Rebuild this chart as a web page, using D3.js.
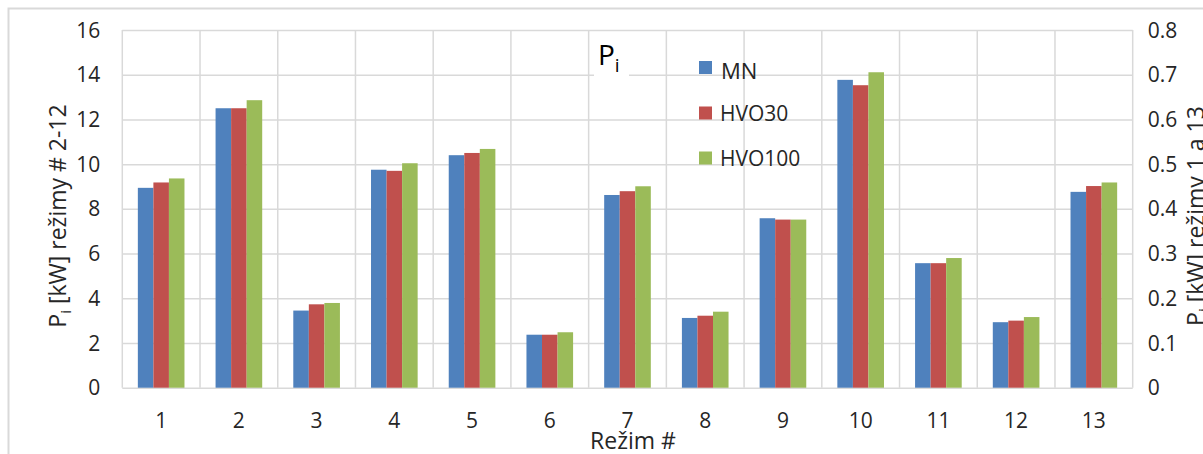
<!DOCTYPE html>
<html>
<head>
<meta charset="utf-8">
<script src="https://cdn.jsdelivr.net/npm/d3@7"></script>
<style>
  body { margin: 0; background: #fff; }
  svg { display: block; font-family: 'Open Sans', sans-serif; }
  .grid line { stroke: #d9d9d9; stroke-width: 1.5; }
  .tick-label { fill: #262626; font-size: 21px; }
  .label-text { fill: #262626; font-size: 23px; }
</style>
</head>
<body>
<div id="chart"></div>
<script>
const categories = ['1', '2', '3', '4', '5', '6', '7', '8', '9', '10', '11', '12', '13'];
// modes 1 and 13 are read against the right axis (0 - 0.8)
const secondaryCats = ['1', '13'];
const mn     = [0.447, 12.50, 3.45,  9.75, 10.40, 2.37, 8.62, 3.12, 7.58, 13.77, 5.57, 2.93, 0.438];
const hvo30  = [0.459, 12.50, 3.73,  9.70, 10.50, 2.37, 8.79, 3.22, 7.52, 13.53, 5.57, 3.00, 0.451];
const hvo100 = [0.468, 12.86, 3.79, 10.04, 10.68, 2.48, 9.01, 3.40, 7.52, 14.11, 5.80, 3.16, 0.459];
const seriesNames = ['MN', 'HVO30', 'HVO100'];
const seriesColors = ['#4f81bd', '#c0504d', '#9bbb59'];
const leftTicks = [0, 2, 4, 6, 8, 10, 12, 14, 16];
const rightTicks = [0, 0.1, 0.2, 0.3, 0.4, 0.5, 0.6, 0.7, 0.8];

const width = 1203;
const height = 454;
const margins = { top: 30, right: 70.3, bottom: 66.3, left: 122.3 };
const chartWidth = width - margins.left - margins.right;
const chartHeight = height - margins.top - margins.bottom;

const series = [mn, hvo30, hvo100];

const svg = d3.select('#chart')
  .append('svg')
  .attr('width', width)
  .attr('height', height)
  .attr('viewBox', `0 0 ${width} ${height}`);

// outer chart frame (only top and left edges show in the picture)
svg.append('path')
  .attr('d', `M8.5,${height} V8.5 H${width}`)
  .attr('fill', 'none')
  .attr('stroke', '#d9d9d9')
  .attr('stroke-width', 2);

const plotG = svg.append('g')
  .attr('class', 'plot-area')
  .attr('transform', `translate(${margins.left},${margins.top})`);

const xScale = d3.scaleBand()
  .domain(categories)
  .range([0, chartWidth])
  .padding(0);

const yLeft = d3.scaleLinear().domain([0, 16]).range([chartHeight, 0]);
const yRight = d3.scaleLinear().domain([0, 0.8]).range([chartHeight, 0]);

// bar width: three bars plus a gap of two bar widths per category
const barW = xScale.bandwidth() / 5;
const xSeries = d3.scaleBand()
  .domain(seriesNames)
  .range([barW, barW * 4])
  .padding(0);

// horizontal grid
plotG.append('g')
  .attr('class', 'y grid')
  .call(d3.axisLeft(yLeft).tickValues(leftTicks).tickSize(-chartWidth).tickFormat(''))
  .call(g => g.select('.domain').remove());

// vertical grid at category borders
plotG.append('g')
  .attr('class', 'x grid')
  .selectAll('line')
  .data(categories.concat(['end']))
  .enter()
  .append('line')
  .attr('x1', (d, i) => i < categories.length ? xScale(d) : chartWidth)
  .attr('x2', (d, i) => i < categories.length ? xScale(d) : chartWidth)
  .attr('y1', 0)
  .attr('y2', chartHeight);

// bars
const groups = plotG.append('g')
  .attr('class', 'bars')
  .selectAll('g')
  .data(categories)
  .enter()
  .append('g')
  .attr('transform', d => `translate(${xScale(d)},0)`);

groups.selectAll('rect')
  .data((c, ci) => series.map((s, si) => ({
    name: seriesNames[si],
    color: seriesColors[si],
    value: s[ci],
    scale: secondaryCats.includes(c) ? yRight : yLeft
  })))
  .enter()
  .append('rect')
  .attr('x', d => xSeries(d.name))
  .attr('width', xSeries.bandwidth())
  .attr('y', d => d.scale(d.value))
  .attr('height', d => chartHeight - d.scale(d.value))
  .attr('fill', d => d.color);

// tick labels
plotG.append('g')
  .selectAll('text')
  .data(leftTicks)
  .enter()
  .append('text')
  .attr('class', 'tick-label')
  .attr('x', -22)
  .attr('y', d => yLeft(d))
  .attr('dy', '0.36em')
  .attr('text-anchor', 'end')
  .text(d => d);

plotG.append('g')
  .selectAll('text')
  .data(rightTicks)
  .enter()
  .append('text')
  .attr('class', 'tick-label')
  .attr('x', chartWidth + 15)
  .attr('y', d => yRight(d))
  .attr('dy', '0.36em')
  .attr('text-anchor', 'start')
  .text(d => d === 0 ? '0' : d3.format('.1f')(d));

plotG.append('g')
  .selectAll('text')
  .data(categories)
  .enter()
  .append('text')
  .attr('class', 'tick-label')
  .attr('x', d => xScale(d) + xScale.bandwidth() / 2)
  .attr('y', chartHeight + 33)
  .attr('dy', '0.36em')
  .attr('text-anchor', 'middle')
  .text(d => d);

// axis titles
svg.append('text')
  .attr('class', 'label-text')
  .attr('x', 633)
  .attr('y', 449)
  .attr('text-anchor', 'middle')
  .text('Režim #');

const yTitle = (x, label) => {
  const t = svg.append('text')
    .attr('class', 'label-text')
    .attr('transform', `translate(${x},216) rotate(-90)`)
    .attr('text-anchor', 'middle');
  t.append('tspan').text('P');
  t.append('tspan').attr('dy', 5).attr('font-size', 15).text('i');
  t.append('tspan').attr('dy', -5).text(label);
};
yTitle(66, ' [kW] režimy # 2-12');
yTitle(1204, ' [kW] režimy 1 a 13');

// chart title with white background over the grid
svg.append('rect')
  .attr('x', 594)
  .attr('y', 44)
  .attr('width', 35)
  .attr('height', 36)
  .attr('fill', '#fff');

const title = svg.append('text')
  .attr('x', 598)
  .attr('y', 65)
  .attr('fill', '#000')
  .attr('font-size', 28);
title.append('tspan').text('P');
title.append('tspan').attr('dy', 7).attr('font-size', 19).text('i');

// legend
const legendY = [67.5, 113, 158];
const legendFont = [22, 21, 21];
const legend = svg.append('g')
  .attr('class', 'legend')
  .selectAll('g')
  .data(seriesNames)
  .enter()
  .append('g')
  .attr('transform', (d, i) => `translate(699,${legendY[i]})`);

legend.append('rect')
  .attr('x', 0)
  .attr('y', -6.5)
  .attr('width', 13)
  .attr('height', 13)
  .attr('fill', (d, i) => seriesColors[i]);

legend.append('text')
  .attr('x', (d, i) => i === 0 ? 22 : 21)
  .attr('y', (d, i) => i === 0 ? 4 : 0)
  .attr('dy', '0.36em')
  .attr('fill', '#262626')
  .attr('font-size', (d, i) => legendFont[i])
  .text(d => d);
</script>
</body>
</html>
